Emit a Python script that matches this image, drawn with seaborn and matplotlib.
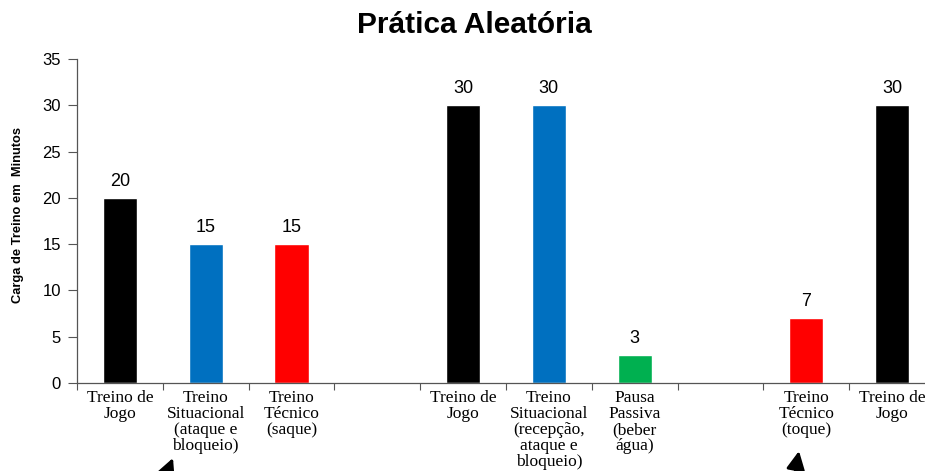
import numpy as np
import pandas as pd
import matplotlib
matplotlib.use("Agg")
import matplotlib.pyplot as plt
import seaborn as sns

# Session slots, in order; empty slots are gaps between blocks
slot_labels = [
    "Treino de\nJogo",
    "Treino\nSituacional\n(ataque e\nbloqueio)",
    "Treino\nTécnico\n(saque)",
    "",
    "Treino de\nJogo",
    "Treino\nSituacional\n(recepção,\nataque e\nbloqueio)",
    "Pausa\nPassiva\n(beber\nágua)",
    "",
    "Treino\nTécnico\n(toque)",
    "Treino de\nJogo",
]
minutes = [20, 15, 15, None, 30, 30, 3, None, 7, 30]
bar_colors = ["#000000", "#0070C0", "#FF0000", None, "#000000",
              "#0070C0", "#00B050", None, "#FF0000", "#000000"]

sns.set_theme(style="white")
plt.rcParams["font.family"] = ["Liberation Sans", "DejaVu Sans"]
plt.rcParams["text.color"] = "black"
plt.rcParams["axes.labelcolor"] = "black"
plt.rcParams["xtick.color"] = "black"
plt.rcParams["ytick.color"] = "black"

slot_keys = [f"s{i}" for i in range(len(slot_labels))]
df = pd.DataFrame({"slot": slot_keys, "min": minutes, "color": bar_colors})
df = df.dropna(subset=["min"])
palette = dict(zip(df["slot"], df["color"]))

fig = plt.figure(figsize=(9.25, 4.71), dpi=100)
ax = fig.add_axes([77 / 925, 1 - 383 / 471, 858 / 925, (383 - 59) / 471])

sns.barplot(data=df, x="slot", y="min", hue="slot", order=slot_keys,
            palette=palette, width=0.4, saturation=1, legend=False, ax=ax)

for cont in ax.containers:
    ax.bar_label(cont, fmt="%g", padding=6, fontsize=13, color="black")

ax.set_xlim(-0.5, len(slot_keys) - 0.5)
ax.set_ylim(0, 35)
ax.set_yticks(np.arange(0, 36, 5))
ax.tick_params(axis="y", direction="out", length=6.5, width=0.8,
               color="#555555", labelsize=12, pad=5, left=True)

# Tick marks on slot boundaries, labels at slot centres
ax.set_xticks(np.arange(-0.5, len(slot_keys), 1.0))
ax.set_xticklabels([])
ax.set_xticks(np.arange(len(slot_keys)), minor=True)
ax.set_xticklabels(slot_labels, minor=True, family=["Liberation Serif"],
                   fontsize=12.5, linespacing=1.0, va="top")
ax.tick_params(axis="x", which="major", direction="out", length=5,
               width=0.8, color="#555555", bottom=True)
ax.tick_params(axis="x", which="minor", length=0, pad=5)

for side in ["top", "right"]:
    ax.spines[side].set_visible(False)
for side in ["left", "bottom"]:
    ax.spines[side].set_color("#555555")
    ax.spines[side].set_linewidth(0.9)

ax.set_xlabel("")
ax.set_ylabel("Carga de Treino em  Minutos", fontsize=9.3,
              fontweight="bold")
ax.yaxis.set_label_coords(-0.062, 0.52)

fig.text(474 / 925, 1 - 25 / 471, "Prática Aleatória", ha="center",
         va="center", fontsize=21.5, fontweight="bold")

# Pointer arrows below the axis labels
for tip, tail in [((173, 458), (160, 490)), ((799, 451), (792, 490))]:
    fig.patches.append(matplotlib.patches.FancyArrowPatch(
        (tail[0] / 925, 1 - tail[1] / 471), (tip[0] / 925, 1 - tip[1] / 471),
        transform=fig.transFigure,
        arrowstyle="-|>,head_length=11,head_width=5.5",
        color="black", lw=2.2, mutation_scale=1, shrinkA=0, shrinkB=0))

fig.savefig("out.png", dpi=100)
